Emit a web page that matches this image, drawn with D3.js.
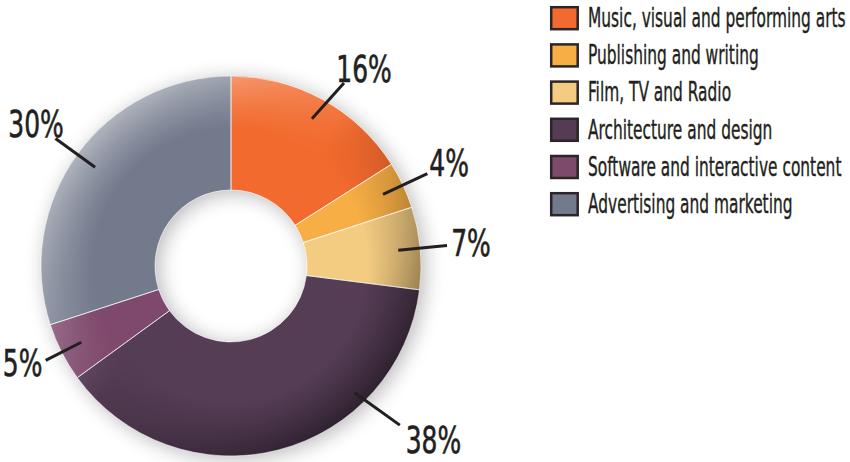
<!DOCTYPE html>
<html>
<head>
<meta charset="utf-8">
<script src="https://cdn.jsdelivr.net/npm/d3@7"></script>
<style>
  body { margin: 0; background: #fff; }
  svg { display: block; }
  text { font-family: "Liberation Sans Narrow", "DejaVu Sans Condensed", "Arial Narrow", sans-serif; fill: #231f20; }
</style>
</head>
<body>
<svg id="chart"></svg>
<script>
var categories = ["Music, visual and performing arts", "Publishing and writing", "Film, TV and Radio",
                  "Architecture and design", "Software and interactive content", "Advertising and marketing"];
var shares = [16, 4, 7, 38, 5, 30];
var labels = ["16%", "4%", "7%", "38%", "5%", "30%"];
var colors = ["#f26a2f", "#f7ae45", "#f3cc82", "#543c55", "#7e4a6c", "#737a8c"];

var width = 850, height = 462;
var cx = 231, cy = 266, outerR = 190, innerR = 76;

// label leader tweaks (degrees clockwise from 12 o'clock), everything else uses slice mid-angle
var leaderFix = {
  "16%": {a0: 28.8, a1: 31.7, r1: 215, ta: 34, tr: 238},
  "38%": {a0: 135.7, r0: 177, a1: 133.3, r1: 232, ta: 130.7, tr: 267},
  "5%": {r1: 208, ta: 245, tr: 230}
};

var svg = d3.select("#chart").attr("width", width).attr("height", height);
var defs = svg.append("defs");

var shadow = defs.append("filter").attr("id", "glow")
  .attr("x", "-30%").attr("y", "-30%").attr("width", "160%").attr("height", "160%");
shadow.append("feGaussianBlur").attr("in", "SourceAlpha").attr("stdDeviation", 10).attr("result", "b");
shadow.append("feOffset").attr("in", "b").attr("dx", 4).attr("dy", 3).attr("result", "o");
shadow.append("feComponentTransfer").attr("in", "o").attr("result", "s")
  .append("feFuncA").attr("type", "linear").attr("slope", 0.28);
var merge = shadow.append("feMerge");
merge.append("feMergeNode").attr("in", "s");
merge.append("feMergeNode").attr("in", "SourceGraphic");

function rimGradient(id, color, maxOp) {
  var g = defs.append("radialGradient").attr("id", id).attr("cx", "50%").attr("cy", "50%").attr("r", "50%");
  g.append("stop").attr("offset", "0.72").attr("stop-color", color).attr("stop-opacity", 0);
  g.append("stop").attr("offset", "1").attr("stop-color", color).attr("stop-opacity", maxOp);
}
rimGradient("rimLight", "#ffffff", 0.5);
rimGradient("rimDark", "#000000", 0.45);

function sideMask(id, light) {
  var lg = defs.append("linearGradient").attr("id", id + "G")
    .attr("x1", 0).attr("y1", 0).attr("x2", 1).attr("y2", 1);
  lg.append("stop").attr("offset", light ? "0.1" : "0.45").attr("stop-color", light ? "#fff" : "#000");
  lg.append("stop").attr("offset", light ? "0.5" : "0.85").attr("stop-color", light ? "#000" : "#fff");
  defs.append("mask").attr("id", id).attr("maskContentUnits", "objectBoundingBox")
    .append("rect").attr("width", 1).attr("height", 1).attr("fill", "url(#" + id + "G)");
}
sideMask("maskLight", true);
sideMask("maskDark", false);

var pie = d3.pie().sort(null).value(function (d) { return d; });
var arcs = pie(shares);
var arc = d3.arc().innerRadius(innerR).outerRadius(outerR);

var donut = svg.append("g").attr("transform", "translate(" + cx + "," + cy + ")");
var body = donut.append("g").attr("filter", "url(#glow)");

body.selectAll("path.slice")
  .data(arcs)
  .enter()
  .append("path")
    .attr("class", "slice")
    .attr("d", arc)
    .attr("fill", function (d, i) { return colors[i]; });

var ring = d3.arc().innerRadius(innerR).outerRadius(outerR).startAngle(0).endAngle(2 * Math.PI)();
donut.append("path").attr("d", ring).attr("fill", "url(#rimLight)").attr("mask", "url(#maskLight)");
donut.append("path").attr("d", ring).attr("fill", "url(#rimDark)").attr("mask", "url(#maskDark)");

donut.selectAll("path.sep")
  .data(arcs)
  .enter()
  .append("path")
    .attr("class", "sep")
    .attr("d", arc)
    .attr("fill", "none")
    .attr("stroke", "#fff")
    .attr("stroke-opacity", 0.7)
    .attr("stroke-width", 0.8);

function polar(deg, r) {
  var a = deg * Math.PI / 180;
  return [Math.sin(a) * r, -Math.cos(a) * r];
}

var lab = donut.selectAll("g.lab")
  .data(arcs)
  .enter()
  .append("g")
    .attr("class", "lab");

lab.each(function (d, i) {
  var mid = (d.startAngle + d.endAngle) / 2 * 180 / Math.PI;
  var f = leaderFix[labels[i]] || {};
  var p0 = polar(f.a0 != null ? f.a0 : mid, f.r0 || 168);
  var p1 = polar(f.a1 != null ? f.a1 : mid, f.r1 || 217);
  var pt = polar(f.ta != null ? f.ta : mid, f.tr || 241);
  var g = d3.select(this);
  g.append("line")
    .attr("x1", p0[0]).attr("y1", p0[1])
    .attr("x2", p1[0]).attr("y2", p1[1])
    .attr("stroke", "#231f20")
    .attr("stroke-width", 3);
  g.append("text")
    .attr("transform", "translate(" + pt[0] + "," + (pt[1] + 13) + ") scale(0.75,1)")
    .attr("text-anchor", "middle")
    .attr("stroke", "#231f20")
    .attr("stroke-width", 0.6)
    .style("font-size", "37px")
    .text(labels[i]);
});

var legend = svg.append("g").attr("transform", "translate(550,6)");
var rows = legend.selectAll("g.row")
  .data(categories)
  .enter()
  .append("g")
    .attr("class", "row")
    .attr("transform", function (d, i) { return "translate(0," + (i * 37.2) + ")"; });

rows.append("rect")
  .attr("x", 1.2).attr("y", 1.2)
  .attr("width", 26.5).attr("height", 22)
  .attr("fill", function (d, i) { return colors[i]; })
  .attr("stroke", "#2b2527")
  .attr("stroke-width", 2.5);

rows.append("text")
  .attr("transform", "translate(38,21) scale(0.635,1)")
  .attr("stroke", "#231f20")
  .attr("stroke-width", 0.4)
  .style("font-size", "27px")
  .text(function (d) { return d; });
</script>
</body>
</html>
